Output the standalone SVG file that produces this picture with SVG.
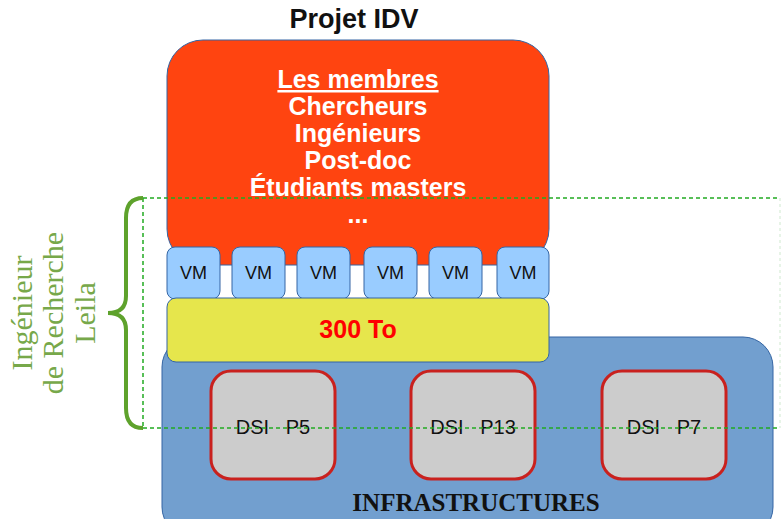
<svg xmlns="http://www.w3.org/2000/svg" width="781" height="519" viewBox="0 0 781 519">
<style>
.sans{font-family:"Liberation Sans",Arial,sans-serif}
.vm rect{fill:#99ccff;stroke:#3465a4;stroke-width:1}
.vm text{font-family:"Liberation Sans",Arial,sans-serif;font-size:18px;fill:#111;text-anchor:middle}
.dsi rect{fill:#cccccc;stroke:#c9211e;stroke-width:3}
.dsi text{font-family:"Liberation Sans",Arial,sans-serif;font-size:20px;fill:#111;text-anchor:middle;white-space:pre}
.mem{font-family:"Liberation Sans",Arial,sans-serif;font-size:25px;font-weight:bold;fill:#fff;text-anchor:middle}
.dash{stroke:#22aa22;stroke-width:1.5;stroke-dasharray:4 3;fill:none}
</style>
<rect width="781" height="519" fill="#fff"/>
<text x="354" y="28" class="sans" font-size="27" font-weight="bold" text-anchor="middle" fill="#111">Projet IDV</text>
<g id="infrastructures">
<rect x="162" y="337" width="611" height="200" rx="30" fill="#729fcf" stroke="#3465a4" stroke-width="1"/>
<text x="476" y="511" font-family="'Liberation Serif','DejaVu Serif',serif" font-size="25" font-weight="bold" text-anchor="middle" fill="#111">INFRASTRUCTURES</text>
</g>
<g id="membres">
<rect x="167" y="40" width="382" height="225" rx="36" fill="#ff4410" stroke="#3465a4" stroke-width="1"/>
<text x="358" y="88" class="mem" text-decoration="underline">Les membres</text>
<text x="358" y="115" class="mem">Chercheurs</text>
<text x="358" y="142" class="mem">Ingénieurs</text>
<text x="358" y="169" class="mem">Post-doc</text>
<text x="358" y="196" class="mem">Étudiants masters</text>
<text x="358" y="223" class="mem">...</text>
</g>
<g id="vm1" class="vm"><rect x="167" y="247" width="53" height="52" rx="8"/><text x="193.5" y="279">VM</text></g>
<g id="vm2" class="vm"><rect x="232" y="247" width="53" height="52" rx="8"/><text x="258.5" y="279">VM</text></g>
<g id="vm3" class="vm"><rect x="297" y="247" width="53" height="52" rx="8"/><text x="323.5" y="279">VM</text></g>
<g id="vm4" class="vm"><rect x="364" y="247" width="53" height="52" rx="8"/><text x="390.5" y="279">VM</text></g>
<g id="vm5" class="vm"><rect x="429" y="247" width="53" height="52" rx="8"/><text x="455.5" y="279">VM</text></g>
<g id="vm6" class="vm"><rect x="497" y="247" width="52" height="52" rx="8"/><text x="523" y="279">VM</text></g>
<g id="stockage">
<rect x="167" y="298" width="382" height="64" rx="9" fill="#e6e64c" stroke="#3465a4" stroke-width="1"/>
<text x="358" y="338" class="sans" font-size="25" font-weight="bold" fill="#ff0000" text-anchor="middle">300 To</text>
</g>
<g id="dsi-p5" class="dsi"><rect x="211" y="371" width="124" height="108" rx="20"/><text x="273" y="434">DSI   P5</text></g>
<g id="dsi-p13" class="dsi"><rect x="411" y="371" width="124" height="108" rx="20"/><text x="473" y="434">DSI   P13</text></g>
<g id="dsi-p7" class="dsi"><rect x="602" y="371" width="124" height="108" rx="20"/><text x="664" y="434">DSI   P7</text></g>
<g id="connectors">
<line x1="143" y1="198" x2="780" y2="198" class="dash"/>
<line x1="143" y1="428" x2="780" y2="428" class="dash"/>
<line x1="143" y1="198" x2="143" y2="428" class="dash" stroke-width="1.2" stroke-dasharray="3 3"/>
<line x1="780" y1="198" x2="780" y2="428" stroke="#cfe9cf" stroke-width="1" stroke-dasharray="3 3"/>
</g>
<g id="ingenieur">
<path d="M143 198 Q126 198 126 218 L126 296 Q126 313 108 313 Q126 313 126 330 L126 408 Q126 428 143 428" fill="none" stroke="#5ea22c" stroke-width="4"/>
<g transform="translate(0,313) rotate(-90)" font-family="'Liberation Serif','DejaVu Serif',serif" font-size="30" fill="#77a84a" text-anchor="middle">
<text x="0" y="32">Ingénieur</text>
<text x="0" y="63">de Recherche</text>
<text x="0" y="95">Leila</text>
</g>
</g>
</svg>
